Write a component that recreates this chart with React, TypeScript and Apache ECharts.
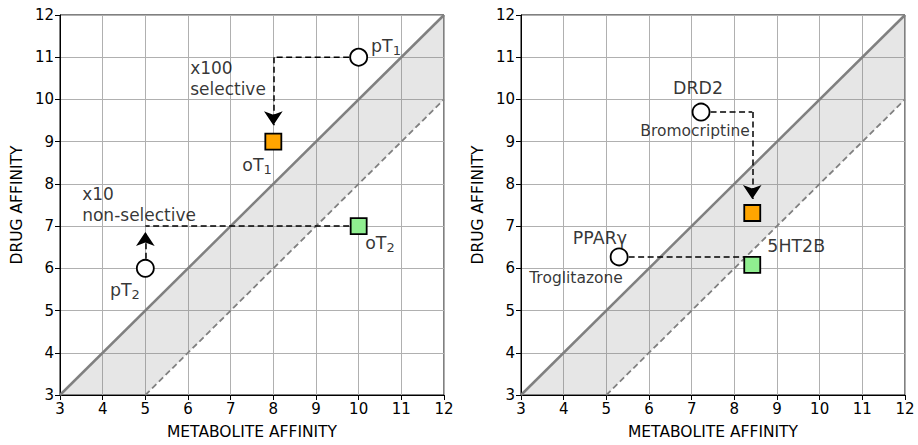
import React, { useEffect, useRef } from "react";
import * as echarts from "echarts";

// Axis range & ticks
const AXIS_MIN = 3;
const AXIS_MAX = 12;
const TICK_STEP = 1;

// Reference geometry (data coordinates)
const diagSolid = [[3, 3], [12, 12]];
const diagDashed = [[5, 3], [12, 10]];
const bandPolygon = [[3, 3], [12, 12], [12, 10], [5, 3]];

// Left panel
const leftCircles = [[10, 11], [5, 6]];
const leftOrange = [[8, 9]];
const leftGreen = [[10, 7]];
const leftArrowPaths = [
  [[10, 11], [8, 11], [8, 9.39]],
  [[5, 6], [5, 6.86]],
];
const leftPlainPaths = [[[10, 7], [5, 7]]];
const leftLabels = [
  { main: "pT", sub: "1", at: [10.64, 11.27] },
  { main: "oT", sub: "1", at: [7.62, 8.45] },
  { main: "pT", sub: "2", at: [4.52, 5.49] },
  { main: "oT", sub: "2", at: [10.5, 6.6] },
];
const leftNotes = [
  { text: "x100\nselective", at: [6.05, 10.5] },
  { text: "x10\nnon-selective", at: [3.52, 7.51] },
];

// Right panel
const rightCircles = [[7.22, 9.7], [5.3, 6.27]];
const rightOrange = [[8.42, 7.31]];
const rightGreen = [[8.42, 6.08]];
const rightArrowPaths = [[[7.22, 9.7], [8.42, 9.7], [8.42, 7.64]]];
const rightPlainPaths = [[[5.3, 6.27], [8.42, 6.27]]];
const rightLabels = [
  { main: "DRD2", sub: "", at: [7.15, 10.26] },
  { main: "PPARγ", sub: "", at: [4.85, 6.71] },
  { main: "5HT2B", sub: "", at: [9.45, 6.53] },
];
const rightSmallLabels = [
  { text: "Bromocriptine", at: [7.08, 9.25] },
  { text: "Troglitazone", at: [4.29, 5.78] },
];

const FONT = "DejaVu Sans";
const DASH = [6, 3.5];

function panelSeries(
  idx: number,
  circles: number[][],
  orange: number[][],
  green: number[][],
  arrows: number[][][],
  plains: number[][][],
  labels: { main: string; sub: string; at: number[] }[],
  notes: { text: string; at: number[] }[],
  small: { text: string; at: number[] }[]
): any[] {
  const ax = { xAxisIndex: idx, yAxisIndex: idx };
  const plainPolys = [...plains, ...arrows.map((p) => p.slice(0, p.length - 1)).filter((p) => p.length > 1)];
  const arrowSegs = arrows.map((p) => [p[p.length - 2], p[p.length - 1]]);
  return [
    {
      type: "custom",
      ...ax,
      z: 1,
      silent: true,
      data: [0],
      renderItem: (_p: any, api: any) => ({
        type: "polygon",
        shape: { points: bandPolygon.map((p) => api.coord(p)) },
        style: { fill: "rgba(128,128,128,0.2)" },
      }),
    },
    {
      type: "line",
      ...ax,
      z: 2,
      data: diagSolid,
      symbol: "none",
      lineStyle: { color: "#808080", width: 2.5 },
    },
    {
      type: "line",
      ...ax,
      z: 2,
      data: diagDashed,
      symbol: "none",
      lineStyle: { color: "#808080", width: 1.8, type: DASH },
    },
    {
      type: "lines",
      coordinateSystem: "cartesian2d",
      ...ax,
      z: 3,
      polyline: true,
      data: plainPolys.map((c) => ({ coords: c })),
      symbol: "none",
      lineStyle: { color: "#000", width: 1.5, type: DASH, opacity: 1 },
    },
    {
      type: "lines",
      coordinateSystem: "cartesian2d",
      ...ax,
      z: 3,
      polyline: false,
      data: arrowSegs.map((c) => ({ coords: c })),
      symbol: ["none", "arrow"],
      symbolSize: [9, 14],
      itemStyle: { color: "#000" },
      lineStyle: { color: "#000", width: 1.5, type: DASH, opacity: 1 },
    },
    {
      type: "scatter",
      ...ax,
      z: 4,
      data: circles,
      symbol: "circle",
      symbolSize: 17,
      itemStyle: { color: "#fff", borderColor: "#000", borderWidth: 1.8, opacity: 1 },
    },
    {
      type: "scatter",
      ...ax,
      z: 4,
      data: orange,
      symbol: "rect",
      symbolSize: 16,
      itemStyle: { color: "#ffa500", borderColor: "#000", borderWidth: 1.8, opacity: 1 },
    },
    {
      type: "scatter",
      ...ax,
      z: 4,
      data: green,
      symbol: "rect",
      symbolSize: 16,
      itemStyle: { color: "#90ee90", borderColor: "#000", borderWidth: 1.8, opacity: 1 },
    },
    {
      type: "scatter",
      ...ax,
      z: 5,
      symbolSize: 0,
      silent: true,
      data: [
        ...labels.map((l) => ({
          value: l.at,
          label: {
            show: true,
            formatter: l.sub ? `{m|${l.main}}{s|${l.sub}}` : `{m|${l.main}}`,
            position: [0, 0],
            align: "center",
            verticalAlign: "middle",
            fontFamily: FONT,
            color: "#000",
            rich: {
              m: { fontSize: 17.4, lineHeight: 22, fontFamily: FONT, color: "#000" },
              s: { fontSize: 13, lineHeight: 13, verticalAlign: "bottom", fontFamily: FONT, color: "#000" },
            },
          },
        })),
        ...notes.map((l) => ({
          value: l.at,
          label: {
            show: true,
            formatter: l.text,
            position: [0, 0],
            align: "left",
            verticalAlign: "middle",
            fontSize: 17,
            lineHeight: 20.5,
            fontFamily: FONT,
            color: "#000",
          },
        })),
        ...small.map((l) => ({
          value: l.at,
          label: {
            show: true,
            formatter: l.text,
            position: [0, 0],
            align: "center",
            verticalAlign: "middle",
            fontSize: 15.5,
            fontFamily: FONT,
            color: "#000",
          },
        })),
      ],
    },
  ];
}

function makeAxis(idx: number, kind: "x" | "y", name: string) {
  return {
    type: "value",
    gridIndex: idx,
    min: AXIS_MIN,
    max: AXIS_MAX,
    interval: TICK_STEP,
    name,
    nameLocation: "middle",
    nameGap: kind === "x" ? 29 : 35,
    nameTextStyle: { fontFamily: FONT, fontSize: 15.5, color: "#000" },
    axisLine: { show: true, onZero: false, lineStyle: { color: "#000", width: 1 } },
    axisTick: { show: true, length: 5, lineStyle: { color: "#000", width: 1 } },
    axisLabel: { fontFamily: FONT, fontSize: 15, color: "#000", margin: 6 },
    splitLine: { show: true, lineStyle: { color: "#b0b0b0", width: 1 } },
  };
}

export default function App() {
  const ref = useRef<HTMLDivElement>(null);
  useEffect(() => {
    if (!ref.current) return;
    const chart = echarts.init(ref.current, null, { renderer: "svg" });
    chart.setOption({
      animation: false,
      backgroundColor: "#fff",
      grid: [
        { left: 60, top: 15, width: 384, height: 383, show: true, borderColor: "#000", borderWidth: 1, backgroundColor: "transparent" },
        { left: 521, top: 15, width: 384, height: 383, show: true, borderColor: "#000", borderWidth: 1, backgroundColor: "transparent" },
      ],
      xAxis: [makeAxis(0, "x", "METABOLITE AFFINITY"), makeAxis(1, "x", "METABOLITE AFFINITY")],
      yAxis: [makeAxis(0, "y", "DRUG AFFINITY"), makeAxis(1, "y", "DRUG AFFINITY")],
      series: [
        ...panelSeries(0, leftCircles, leftOrange, leftGreen, leftArrowPaths, leftPlainPaths, leftLabels, leftNotes, []),
        ...panelSeries(1, rightCircles, rightOrange, rightGreen, rightArrowPaths, rightPlainPaths, rightLabels, [], rightSmallLabels),
      ],
    });
    return () => chart.dispose();
  }, []);
  return (
    <div
      ref={ref}
      style={{ position: "fixed", left: 0, top: 0, width: 918, height: 445 }}
    />
  );
}
